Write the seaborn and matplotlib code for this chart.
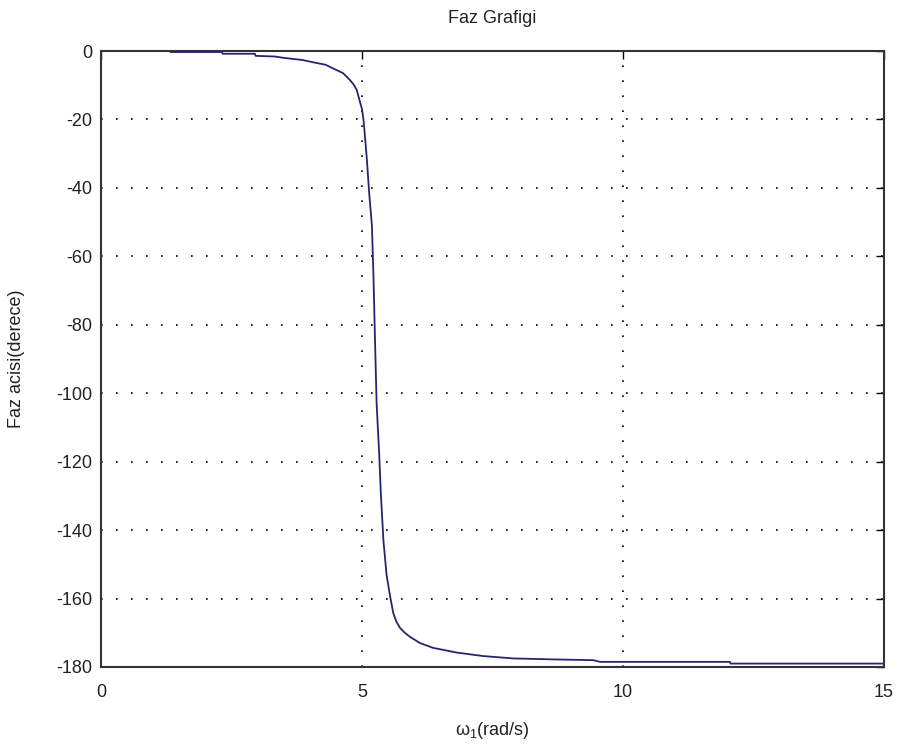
import matplotlib
matplotlib.use("Agg")
import matplotlib.pyplot as plt
import seaborn as sns
import pandas as pd

# Data
omega = [1.33, 2.32, 2.33, 2.95, 2.96, 3.33, 3.5, 3.85, 4.1, 4.3, 4.45, 4.64, 4.77,
         4.84, 4.9, 4.96, 5.0, 5.03, 5.09, 5.14, 5.19, 5.22, 5.25, 5.28, 5.33, 5.36, 5.41,
         5.47, 5.54, 5.6, 5.66, 5.73, 5.82, 5.92, 6.11, 6.36, 6.82, 7.32, 7.9, 8.73, 9.43,
         9.56, 12.05, 12.06, 15.0]
phase = [-0.3, -0.3, -0.8, -0.8, -1.4, -1.6, -2.0, -2.6, -3.4, -4.0, -5.1, -6.5, -8.5,
         -9.8, -11.4, -14.8, -17.0, -20.2, -31.0, -42.0, -51.0, -66.0, -85.0, -103.0, -118.0, -129.0, -143.0,
         -153.0, -159.5, -164.3, -166.8, -168.6, -170.0, -171.2, -173.0, -174.4, -175.8, -176.8, -177.5, -177.8, -178.0,
         -178.5, -178.5, -179.0, -179.0]
xticks = [0, 5, 10, 15]
yticks = [0, -20, -40, -60, -80, -100, -120, -140, -160, -180]

df = pd.DataFrame({"omega": omega, "phase": phase})

sns.set_style("white")
plt.rcParams["font.family"] = ["Liberation Sans", "DejaVu Sans"]
plt.rcParams["axes.unicode_minus"] = False
plt.rcParams["mathtext.fontset"] = "custom"
plt.rcParams["mathtext.rm"] = "Liberation Sans"
plt.rcParams["mathtext.it"] = "Liberation Sans"

fig = plt.figure(figsize=(9.02, 7.45), dpi=100)
ax = fig.add_axes([0.112, 0.1047, 0.868, 0.8268])

sns.lineplot(data=df, x="omega", y="phase", ax=ax, color="#26266e",
             linewidth=1.3, estimator=None, sort=False)

ax.set_xlim(0, 15)
ax.set_ylim(-180, 0)
ax.set_xticks(xticks)
ax.set_yticks(yticks)
ax.set_xticklabels([str(t) for t in xticks], fontsize=13)
ax.set_yticklabels([str(t) for t in yticks], fontsize=13)
ax.tick_params(direction="in", length=6, width=1, color="black",
               top=True, right=True, labelcolor="#222222")
ax.tick_params(axis="x", pad=12)
ax.tick_params(axis="y", pad=6)
ax.grid(True, linestyle=(0, (1, 8)), color="black", linewidth=1.2)
for s in ax.spines.values():
    s.set_color("#333333")
    s.set_linewidth(1.5)

ax.set_title("Faz Grafigi", fontsize=13, pad=20, color="#222222")
ax.set_xlabel(r"$\mathrm{\omega_1}$(rad/s)", fontsize=13, color="#222222", labelpad=14)
ax.set_ylabel("Faz acisi(derece)", fontsize=13, color="#222222")
ax.yaxis.set_label_coords(-0.097, 0.5)

fig.savefig("out.png", dpi=100)
